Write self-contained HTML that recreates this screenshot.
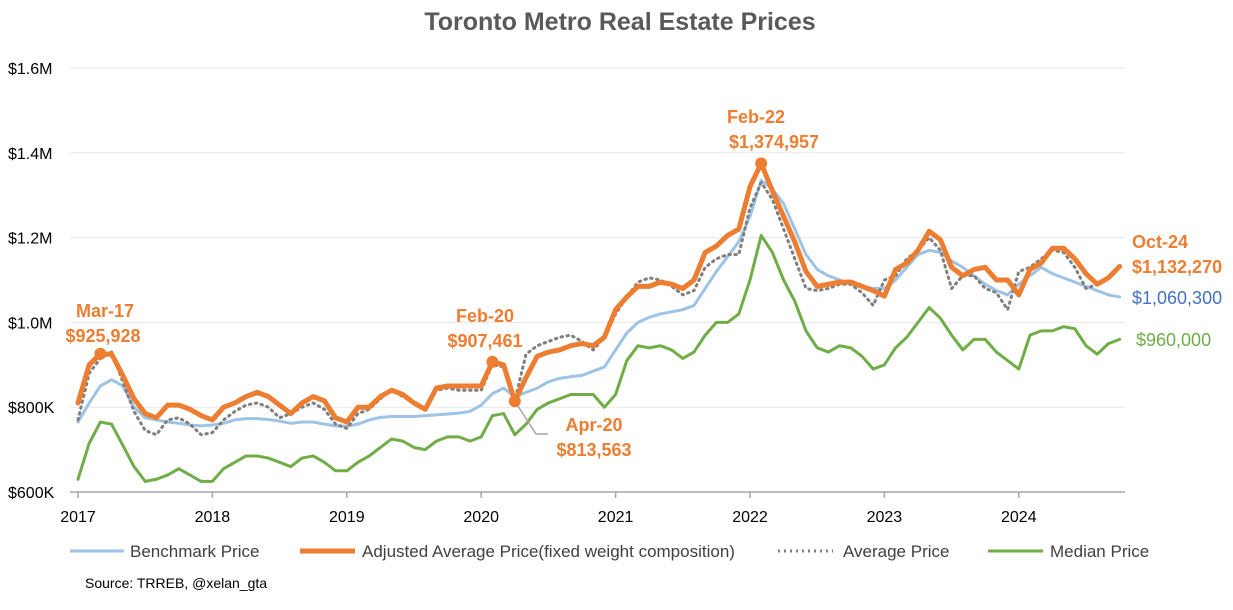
<!DOCTYPE html>
<html><head><meta charset="utf-8"><style>
body{margin:0;background:#fff;font-family:"Liberation Sans",Arial,sans-serif;}
svg text{font-family:"Liberation Sans",Arial,sans-serif;}
</style></head><body>
<svg id="chart" width="1233" height="605">
<text x="620" y="30" text-anchor="middle" font-size="25" font-weight="bold" fill="#595959">Toronto Metro Real Estate Prices</text>
<g id="grid"></g><g id="series"></g><g id="ann"></g>
<g font-size="17" fill="#404040">
<line x1="70" y1="551" x2="124" y2="551" stroke="#9DC3E6" stroke-width="3"/>
<text x="130" y="557">Benchmark Price</text>
<line x1="300" y1="551" x2="355" y2="551" stroke="#ED7D31" stroke-width="5"/>
<text x="362" y="557">Adjusted Average Price(fixed weight composition)</text>
<line x1="778" y1="551" x2="833" y2="551" stroke="#7F7F7F" stroke-width="3" stroke-dasharray="2,4"/>
<text x="843" y="557">Average Price</text>
<line x1="988" y1="551" x2="1043" y2="551" stroke="#70AD47" stroke-width="3"/>
<text x="1050" y="557">Median Price</text>
</g>
<text x="85" y="588" font-size="14" fill="#000">Source: TRREB, @xelan_gta</text>
</svg>
<script>
const years = ["2017","2018","2019","2020","2021","2022","2023","2024"];
const yTicks = [600,800,1000,1200,1400,1600];
const yTickLabels = ["$600K","$800K","$1.0M","$1.2M","$1.4M","$1.6M"];
const benchmark = [765,810,850,865,850,800,775,770,765,762,758,756, 758,762,770,773,773,771,767,762,765,765,760,756, 755,760,770,776,778,778,778,780,782,784,786,790, 805,832,845,825,835,845,860,868,872,875,885,895, 935,975,1000,1012,1020,1025,1030,1040,1080,1120,1155,1190, 1250,1335,1315,1280,1220,1160,1125,1110,1100,1090,1085,1080, 1080,1100,1130,1160,1170,1165,1145,1130,1110,1090,1075,1065, 1090,1110,1130,1115,1105,1095,1085,1075,1065,1060];
const adjusted = [810,900,926,925,875,820,785,775,805,805,795,780, 770,800,810,825,835,825,805,785,810,825,815,775, 765,800,800,825,840,830,810,795,845,850,850,850, 850,907,900,814,870,920,930,935,945,950,945,965, 1030,1060,1085,1085,1095,1090,1080,1100,1165,1180,1205,1220, 1320,1375,1310,1250,1190,1120,1085,1090,1095,1095,1085,1075, 1062,1125,1140,1170,1215,1195,1130,1110,1125,1130,1100,1100, 1065,1125,1140,1175,1175,1150,1115,1090,1105,1132];
const average = [770,880,915,930,860,790,745,735,770,775,760,735, 740,770,790,805,810,800,775,785,800,810,795,760, 750,785,795,820,840,825,810,795,840,845,840,840, 840,900,895,815,925,945,955,965,970,955,935,965, 1020,1060,1095,1105,1100,1085,1065,1075,1130,1150,1160,1160, 1270,1330,1290,1220,1150,1080,1075,1080,1090,1090,1070,1040, 1100,1110,1150,1170,1200,1170,1080,1110,1110,1080,1070,1030, 1120,1130,1150,1170,1165,1130,1080,1090,1105,1130];
const median = [630,715,765,760,710,660,625,630,640,655,640,625, 625,655,670,685,685,680,670,660,680,685,670,650, 650,670,685,705,725,720,705,700,720,730,730,720, 730,780,785,735,760,795,810,820,830,830,830,800, 830,910,945,940,945,935,915,930,970,1000,1000,1020, 1100,1205,1165,1100,1050,980,940,930,945,940,920,890, 900,940,965,1000,1035,1010,970,935,960,960,930,910, 890,970,980,980,990,985,945,925,950,960];
const NS="http://www.w3.org/2000/svg";
const x = i => 78 + i*11.2;
const y = v => 492 - (v-600)/1000*424;
function mk(tag, attrs, parent){const e=document.createElementNS(NS,tag);for(const k in attrs)e.setAttribute(k,attrs[k]);parent.appendChild(e);return e;}
const grid=document.getElementById('grid');
yTicks.forEach((t,i)=>{
  if(i>0){const g=mk('line',{x1:70,x2:1125,y1:y(t),y2:y(t),stroke:'#E8E8E8','stroke-width':1},grid);
  
  }
  const tx=mk('text',{x:8,y:y(t)+6,'font-size':16,fill:'#000'},grid);tx.textContent=yTickLabels[i];
  
  
});
const ax=mk('line',{x1:70,x2:1125,y1:492,y2:492,stroke:'#A6A6A6','stroke-width':1.5},grid);


years.forEach((yr,i)=>{
  const xx=x(i*12);
  const tk=mk('line',{x1:xx,x2:xx,y1:492,y2:498,stroke:'#A6A6A6','stroke-width':1.5},grid);
  
  
  const t=mk('text',{x:xx,y:522,'font-size':16,'text-anchor':'middle',fill:'#000'},grid);t.textContent=yr;
  
  
});
const S=document.getElementById('series');
function line(arr,stroke,w,dash,name){
  const p=mk('polyline',{points:arr.map((v,i)=>x(i)+','+y(v)).join(' '),fill:'none',stroke:stroke,'stroke-width':w,'stroke-linejoin':'round','stroke-linecap':'round'},S);
  if(dash)p.setAttribute('stroke-dasharray',dash);
  
  
}
line(median,'#70AD47',3,null,'median-price-line');
line(benchmark,'#9DC3E6',3,null,'benchmark-price-line');
line(average,'#7F7F7F',3,'1.5,4.5','average-price-line');
line(adjusted,'#ED7D31',5,null,'adjusted-average-price-line');
const A=document.getElementById('ann');
const conn=mk('polyline',{points:x(39)+','+y(adjusted[39])+' 536,434 548,434',fill:'none',stroke:'#A6A6A6','stroke-width':1.5},A);


[2,37,39,61].forEach(i=>{
  const c=mk('circle',{cx:x(i),cy:y(adjusted[i]),r:6,fill:'#ED7D31'},A);
  
  
});
const labels=[["Mar-17",105,317,'middle','#ED7D31',true],["$925,928",103,342,'middle','#ED7D31',true],
["Feb-20",485,322,'middle','#ED7D31',true],["$907,461",485,347,'middle','#ED7D31',true],
["Apr-20",594,431,'middle','#ED7D31',true],["$813,563",594,456,'middle','#ED7D31',true],
["Feb-22",756,123,'middle','#ED7D31',true],["$1,374,957",774,148,'middle','#ED7D31',true],
["Oct-24",1132,248,'start','#ED7D31',true],["$1,132,270",1132,273,'start','#ED7D31',true],
["$1,060,300",1132,304,'start','#4472C4',false],["$960,000",1136,346,'start','#70AD47',false]];
labels.forEach(l=>{
  const t=mk('text',{x:l[1],y:l[2],'text-anchor':l[3],fill:l[4],'font-size':18,'font-weight':l[5]?'bold':'normal'},A);
  t.textContent=l[0];
  
  
});
</script>
</body></html>
